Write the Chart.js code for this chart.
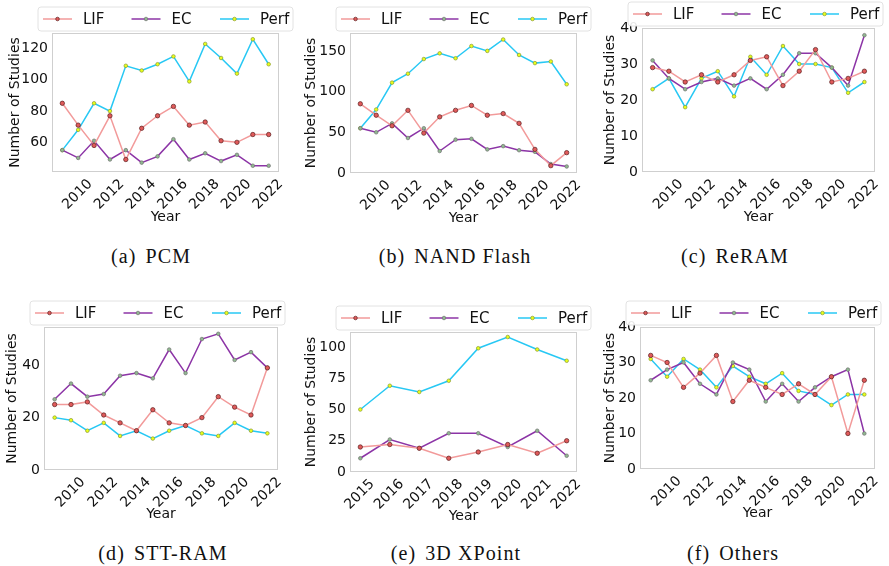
<!DOCTYPE html>
<html>
<head>
<meta charset="utf-8">
<script src="https://cdn.jsdelivr.net/npm/chart.js@4.4.0/dist/chart.umd.min.js"></script>
<style>
body { margin: 0; background: #fff; width: 889px; height: 566px; position: relative; overflow: hidden; }
canvas { position: absolute; }
.cap { position: absolute; font-family: "Liberation Serif", "DejaVu Serif", serif; font-size: 20px; letter-spacing: 1.1px; color: #111; transform: translateX(-50%); white-space: nowrap; }
.cap b { font-weight: normal; margin-right: 9px; }
</style>
</head>
<body>
<canvas id="pcm"></canvas>
<canvas id="nand"></canvas>
<canvas id="reram"></canvas>
<canvas id="stt"></canvas>
<canvas id="xpoint"></canvas>
<canvas id="others"></canvas>
<div class="cap" style="left:151px;top:245px"><b>(a)</b>PCM</div>
<div class="cap" style="left:455px;top:245px"><b>(b)</b>NAND Flash</div>
<div class="cap" style="left:735px;top:245px"><b>(c)</b>ReRAM</div>
<div class="cap" style="left:163px;top:542px"><b>(d)</b>STT-RAM</div>
<div class="cap" style="left:456px;top:542px"><b>(e)</b>3D XPoint</div>
<div class="cap" style="left:733px;top:542px"><b>(f)</b>Others</div>
<script>
// years on the x axis
var years = [2009, 2010, 2011, 2012, 2013, 2014, 2015, 2016, 2017, 2018, 2019, 2020, 2021, 2022];
var yearsXp = [2015, 2016, 2017, 2018, 2019, 2020, 2021, 2022];
var yearTicks = [2010, 2012, 2014, 2016, 2018, 2020, 2022];

// (a) PCM
var pcmLif  = [85, 71, 58, 77, 49, 69, 77, 83, 71, 73, 61, 60, 65, 65];
var pcmEc   = [55, 50, 61, 49, 55, 47, 51, 62, 49, 53, 48, 52, 45, 45];
var pcmPerf = [55, 68, 85, 80, 109, 106, 110, 115, 99, 123, 114, 104, 126, 110];
var pcmTicks = [60, 80, 100, 120];

// (b) NAND Flash
var nandLif  = [85, 71, 58, 77, 49, 69, 77, 83, 71, 73, 61, 29, 9, 25];
var nandEc   = [55, 50, 61, 43, 55, 27, 41, 42, 29, 33, 28, 26, 11, 8];
var nandPerf = [55, 78, 111, 122, 140, 147, 141, 156, 150, 164, 145, 135, 137, 109];
var nandTicks = [0, 50, 100, 150];

// (c) ReRAM
var reLif  = [29, 28, 25, 27, 25, 27, 31, 32, 24, 28, 34, 25, 26, 28];
var reEc   = [31, 26, 23, 25, 26, 24, 26, 23, 27, 33, 33, 29, 24, 38];
var rePerf = [23, 26, 18, 26, 28, 21, 32, 27, 35, 30, 30, 29, 22, 25];
var reTicks = [0, 10, 20, 30, 40];

// (d) STT-RAM
var sttLif  = [25, 25, 26, 21, 18, 15, 23, 18, 17, 20, 28, 24, 21, 39];
var sttEc   = [27, 33, 28, 29, 36, 37, 35, 46, 37, 50, 52, 42, 45, 39];
var sttPerf = [20, 19, 15, 18, 13, 15, 12, 15, 17, 14, 13, 18, 15, 14];
var sttTicks = [0, 20, 40];

// (e) 3D XPoint
var xpLif  = [20, 22, 19, 11, 16, 22, 15, 25];
var xpEc   = [11, 26, 19, 31, 31, 20, 33, 13];
var xpPerf = [50, 69, 64, 73, 99, 108, 98, 89];
var xpTicks = [0, 25, 50, 75, 100];

// (f) Others
var otLif  = [32, 30, 23, 27, 32, 19, 25, 23, 21, 24, 21, 26, 10, 25];
var otEc   = [25, 28, 30, 24, 21, 30, 28, 19, 24, 19, 23, 26, 28, 10];
var otPerf = [31, 26, 31, 28, 23, 29, 26, 24, 27, 22, 21, 18, 21, 21];
var otTicks = [0, 10, 20, 30, 40];

var names = ['LIF', 'EC', 'Perf'];
var lineCol = ['#f29a9a', '#8c34a6', '#27c8f4'];
var dotCol  = ['#e05a5a', '#90b890', '#e8ff1a'];
var edgeCol = ['#5a2020', '#707070', '#8a9a30'];
var sans = '"DejaVu Sans", sans-serif';

function pts(xs, ys) {
	return xs.map(function(x, i) { return {x: x, y: ys[i]}; });
}

// grey frame around the plot and the boxed legend above it
var frame = {
	id: 'frame',
	afterDraw: function(chart) {
		var ctx = chart.ctx, a = chart.chartArea;
		ctx.save();
		ctx.strokeStyle = '#cfcfcf';
		ctx.lineWidth = 1;
		ctx.strokeRect(a.left + 0.5, a.top + 0.5, a.right - a.left - 1, a.bottom - a.top - 1);

		var x = a.left - 14, y = a.top - 26, w = 255, h = 24, r = 3;
		ctx.beginPath();
		ctx.moveTo(x + r, y);
		ctx.arcTo(x + w, y, x + w, y + h, r);
		ctx.arcTo(x + w, y + h, x, y + h, r);
		ctx.arcTo(x, y + h, x, y, r);
		ctx.arcTo(x, y, x + w, y, r);
		ctx.closePath();
		ctx.fillStyle = 'rgba(255,255,255,0.9)';
		ctx.fill();
		ctx.strokeStyle = '#e2e2e2';
		ctx.stroke();

		ctx.font = '15px ' + sans;
		ctx.textBaseline = 'middle';
		ctx.fillStyle = '#111';
		chart.data.datasets.forEach(function(ds, i) {
			var lx = x + 5 + i * 88.5, ly = y + h / 2;
			ctx.strokeStyle = ds.borderColor;
			ctx.lineWidth = 1.5;
			ctx.beginPath();
			ctx.moveTo(lx, ly);
			ctx.lineTo(lx + 29, ly);
			ctx.stroke();
			ctx.beginPath();
			ctx.arc(lx + 14.5, ly, 1.8, 0, Math.PI * 2);
			ctx.fillStyle = ds.pointBackgroundColor;
			ctx.fill();
			ctx.strokeStyle = ds.pointBorderColor;
			ctx.lineWidth = 0.7;
			ctx.stroke();
			ctx.fillStyle = '#111';
			ctx.fillText(ds.label, lx + 40, ly + 1);
		});
		ctx.restore();
	}
};

function panel(id, box, xs, series, xMin, xMax, xTicks, yMin, yMax, yTicks) {
	var cv = document.getElementById(id);
	cv.style.left = box.x + 'px';
	cv.style.top = box.y + 'px';
	cv.style.width = box.w + 'px';
	cv.style.height = box.h + 'px';
	cv.width = box.w;
	cv.height = box.h;

	new Chart(cv.getContext('2d'), {
		type: 'line',
		data: {
			datasets: series.map(function(s, i) {
				return {
					label: names[i],
					data: pts(xs, s),
					borderColor: lineCol[i],
					borderWidth: 1.5,
					pointBackgroundColor: dotCol[i],
					pointBorderColor: edgeCol[i],
					pointBorderWidth: 0.7,
					pointRadius: i == 0 ? 2.2 : 1.8,
					tension: 0,
					clip: 6
				};
			})
		},
		options: {
			responsive: false,
			animation: false,
			devicePixelRatio: 1,
			layout: {
				autoPadding: false,
				padding: {top: box.t, right: box.r, left: 0, bottom: 0}
			},
			plugins: {legend: {display: false}, tooltip: {enabled: false}},
			scales: {
				x: {
					type: 'linear',
					min: xMin,
					max: xMax,
					afterBuildTicks: function(s) { s.ticks = xTicks.map(function(v) { return {value: v}; }); },
					afterFit: function(s) { s.height = box.xh; },
					grid: {display: false, drawTicks: false},
					border: {display: false},
					ticks: {
						minRotation: 45, maxRotation: 45, padding: 4, labelOffset: 12,
						color: '#111', font: {family: sans, size: 14},
						callback: function(v) { return String(v); }
					},
					title: {display: true, text: 'Year', color: '#111', font: {family: sans, size: 14}, padding: 0}
				},
				y: {
					min: yMin,
					max: yMax,
					afterBuildTicks: function(s) { s.ticks = yTicks.map(function(v) { return {value: v}; }); },
					afterFit: function(s) { s.width = box.yw; },
					grid: {display: false, drawTicks: false},
					border: {display: false},
					ticks: {padding: 4, color: '#111', font: {family: sans, size: 14}},
					title: {display: true, text: 'Number of Studies', color: '#111', font: {family: sans, size: 14}, padding: {top: box.tp, bottom: 0}}
				}
			}
		},
		plugins: [frame]
	});
}

panel('pcm',    {x: 0,   y: 0,   w: 296, h: 226, t: 33, r: 17, yw: 52, xh: 54, tp: 7},
	years, [pcmLif, pcmEc, pcmPerf], 2008.35, 2022.65, yearTicks, 41, 130, pcmTicks);
panel('nand',   {x: 296, y: 0,   w: 296, h: 227, t: 33, r: 15, yw: 54, xh: 54, tp: 7},
	years, [nandLif, nandEc, nandPerf], 2008.35, 2022.65, yearTicks, 0, 172, nandTicks);
panel('reram',  {x: 592, y: 0,   w: 297, h: 226, t: 28, r: 14, yw: 50, xh: 54, tp: 10},
	years, [reLif, reEc, rePerf], 2008.35, 2022.65, yearTicks, 0, 40, reTicks);
panel('stt',    {x: 0,   y: 290, w: 296, h: 233, t: 37, r: 18, yw: 44, xh: 53, tp: 4},
	years, [sttLif, sttEc, sttPerf], 2008.35, 2022.65, yearTicks, 0, 54.6, sttTicks);
panel('xpoint', {x: 296, y: 290, w: 296, h: 235, t: 42, r: 15, yw: 54, xh: 53, tp: 7},
	yearsXp, [xpLif, xpEc, xpPerf], 2014.65, 2022.35, yearsXp, 0, 112, xpTicks);
panel('others', {x: 592, y: 290, w: 297, h: 232, t: 37, r: 14, yw: 48, xh: 53, tp: 10},
	years, [otLif, otEc, otPerf], 2008.35, 2022.65, yearTicks, 0, 40, otTicks);
</script>
</body>
</html>
